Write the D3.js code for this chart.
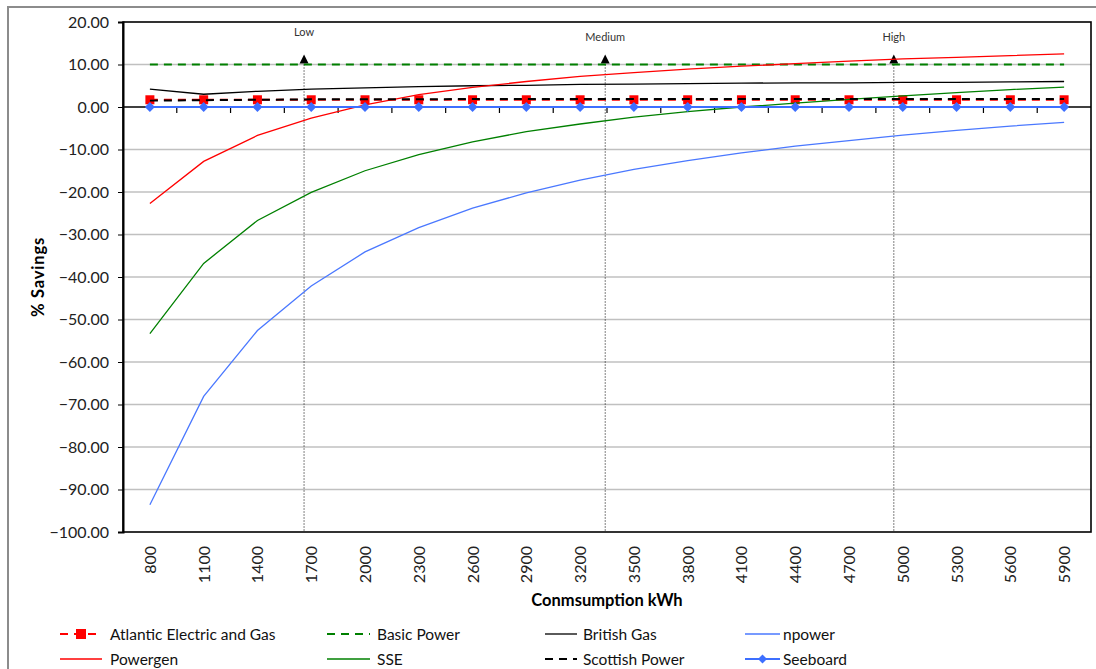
<!DOCTYPE html>
<html><head><meta charset="utf-8">
<script src="https://cdn.jsdelivr.net/npm/d3@7"></script>
<style>
body{margin:0;background:#fff;}
svg{display:block;font-family:Lato, "Open Sans", sans-serif;}
</style></head>
<body>
<svg id="c" width="1096" height="669"></svg>
<script>
const categories = [800,1100,1400,1700,2000,2300,2600,2900,3200,3500,3800,4100,4400,4700,5000,5300,5600,5900];
const atlantic  = [1.7,1.7,1.7,1.7,1.7,1.7,1.7,1.7,1.7,1.7,1.7,1.7,1.7,1.7,1.7,1.7,1.7,1.7];
const basicPower = [10,10,10,10,10,10,10,10,10,10,10,10,10,10,10,10,10,10];
const britishGas = [4.2,3.0,3.7,4.2,4.5,4.8,5.0,5.1,5.3,5.4,5.5,5.6,5.7,5.7,5.8,5.8,5.9,6.0];
const npower    = [-93.6,-68.1,-52.6,-42.1,-34.1,-28.4,-23.8,-20.2,-17.2,-14.7,-12.6,-10.8,-9.2,-7.9,-6.6,-5.5,-4.5,-3.6];
const powergen  = [-22.7,-12.8,-6.7,-2.6,0.5,2.9,4.6,6.0,7.2,8.1,8.9,9.6,10.2,10.8,11.3,11.7,12.1,12.5];
const sse       = [-53.3,-36.8,-26.7,-20.1,-15.0,-11.2,-8.2,-5.8,-4.0,-2.4,-1.1,0.0,0.9,1.8,2.6,3.4,4.1,4.7];
const scottishPower = [1.5,1.6,1.7,1.8,1.8,1.8,1.9,1.9,1.9,1.9,1.9,1.9,1.9,1.9,1.9,1.9,1.9,1.9];
const seeboard  = [0,0,0,0,0,0,0,0,0,0,0,0,0,0,0,0,0,0];
const yTicks = [20,10,0,-10,-20,-30,-40,-50,-60,-70,-80,-90,-100];
const bandLabels = ["Low","Medium","High"];
const bandKwh = [1660,3340,4950];

const series = [
  {name:"Atlantic Electric and Gas", values:atlantic, color:"#ff0000", dash:"8,6", width:2, marker:"square"},
  {name:"Basic Power", values:basicPower, color:"#008000", dash:"8,6", width:2},
  {name:"British Gas", values:britishGas, color:"#000000", width:1.3},
  {name:"npower", values:npower, color:"#4a78ff", width:1.3},
  {name:"Powergen", values:powergen, color:"#ff0000", width:1.3},
  {name:"SSE", values:sse, color:"#008000", width:1.3},
  {name:"Scottish Power", values:scottishPower, color:"#000000", dash:"8,6", width:2},
  {name:"Seeboard", values:seeboard, color:"#3d6fff", width:2, marker:"diamond"}
];

const svg = d3.select("#c");
const L=123, R=1091, T=22, B=532;
const x = d3.scaleBand().domain(categories).range([L,R]);
const xc = d => x(d) + x.bandwidth()/2;
const xk = d3.scaleLinear().domain([categories[0], categories[categories.length-1]]).range([xc(categories[0]), xc(categories[categories.length-1])]);
const y = d3.scaleLinear().domain([-100,20]).range([B,T]);

// outer border
svg.append("rect").attr("x",8).attr("y",7).attr("width",1100).attr("height",700)
  .attr("fill","none").attr("stroke","#8c8c8c").attr("stroke-width",2);

// gridlines
svg.append("g").selectAll("line").data(yTicks.filter(v=>v!==0 && v!==20 && v!==-100)).join("line")
  .attr("x1",L).attr("x2",R).attr("y1",d=>y(d)).attr("y2",d=>y(d))
  .attr("stroke","#c0c0c0").attr("stroke-width",1.3);

// plot frame
svg.append("rect").attr("x",L).attr("y",T).attr("width",R-L).attr("height",B-T)
  .attr("fill","none").attr("stroke","#000").attr("stroke-width",1.6);

// y axis
const yAxis = d3.axisLeft(y).tickValues(yTicks).tickSize(5).tickFormat(d3.format(".2f"));
const gy = svg.append("g").attr("transform",`translate(${L},0)`).call(yAxis);
gy.select(".domain").attr("stroke","#000").attr("stroke-width",2);
gy.selectAll(".tick line").attr("stroke","#000");
gy.selectAll("text").attr("font-size",16).attr("fill","#222").attr("x",-14).attr("font-family","Lato, sans-serif");

// zero axis line with tick marks between categories
svg.append("line").attr("x1",L).attr("x2",R).attr("y1",y(0)).attr("y2",y(0)).attr("stroke","#000").attr("stroke-width",1.3);
svg.append("g").selectAll("line").data(categories.slice(1)).join("line")
  .attr("x1",d=>x(d)).attr("x2",d=>x(d)).attr("y1",y(0)).attr("y2",y(0)+6)
  .attr("stroke","#000").attr("stroke-width",1.2);

// x tick labels (rotated)
svg.append("g").selectAll("text").data(categories).join("text")
  .attr("transform",d=>`translate(${xc(d)+6},${B+14}) rotate(-90)`)
  .attr("text-anchor","end").attr("font-size",16).attr("fill","#222").text(d=>d);

// Low / Medium / High markers
const mk = svg.append("g");
bandLabels.forEach((lab,i)=>{
  const px = xk(bandKwh[i]);
  mk.append("line").attr("x1",px).attr("x2",px).attr("y1",y(10)-6).attr("y2",B)
    .attr("stroke","#000").attr("stroke-width",1).attr("stroke-dasharray","1,2");
  mk.append("path").attr("d",`M${px},${y(10)-10} L${px-4.5},${y(10)-1} L${px+4.5},${y(10)-1} Z`).attr("fill","#000");
  mk.append("text").attr("x",px).attr("y", lab==="Low"?36:41).attr("text-anchor","middle")
    .attr("font-size",11).attr("fill","#333").text(lab);
});

// lines
const line = d3.line().x((d,i)=>xc(categories[i])).y(d=>y(d));
series.forEach(s=>{
  svg.append("path").datum(s.values).attr("d",line).attr("fill","none")
    .attr("stroke",s.color).attr("stroke-width",s.width)
    .attr("stroke-dasharray",s.dash||null);
  if(s.marker==="square"){
    svg.append("g").selectAll("rect").data(s.values).join("rect")
      .attr("x",(d,j)=>xc(categories[j])-4.5).attr("y",d=>y(d)-4.5).attr("width",9).attr("height",9).attr("fill",s.color);
  }
  if(s.marker==="diamond"){
    svg.append("g").selectAll("path").data(s.values).join("path")
      .attr("d",(d,j)=>{const cx=xc(categories[j]), cy=y(d); return `M${cx},${cy-5} L${cx+5},${cy} L${cx},${cy+5} L${cx-5},${cy} Z`;})
      .attr("fill",s.color);
  }
});

// axis titles
svg.append("text").attr("x",607).attr("y",606).attr("text-anchor","middle").attr("font-size",16.5).attr("font-weight","bold").attr("fill","#000").text("Conmsumption kWh");
svg.append("text").attr("transform",`translate(44,277) rotate(-90)`).attr("text-anchor","middle").attr("font-size",16.5).attr("font-weight","bold").attr("fill","#000").attr("letter-spacing",0.8).text("% Savings");

// legend
const legCols = [[60,102,110],[327,370,377],[545,577,583],[745,780,783]];
const legRows = [634,659];
series.forEach((s,i)=>{
  const c = legCols[i%4], r = legRows[Math.floor(i/4)];
  const g = svg.append("g");
  g.append("line").attr("x1",c[0]).attr("x2",c[1]).attr("y1",r).attr("y2",r)
    .attr("stroke",s.color).attr("stroke-width",s.width).attr("stroke-dasharray",s.dash?"8,6":null);
  const m = (c[0]+c[1])/2;
  if(s.marker==="square") g.append("rect").attr("x",m-5).attr("y",r-5).attr("width",10).attr("height",10).attr("fill",s.color);
  if(s.marker==="diamond") g.append("path").attr("d",`M${m},${r-4.5} L${m+4.5},${r} L${m},${r+4.5} L${m-4.5},${r} Z`).attr("fill",s.color);
  g.append("text").attr("x",c[2]).attr("y",r+5.5).attr("font-size",15.5).attr("fill","#111").text(s.name);
});
</script>
</body></html>
